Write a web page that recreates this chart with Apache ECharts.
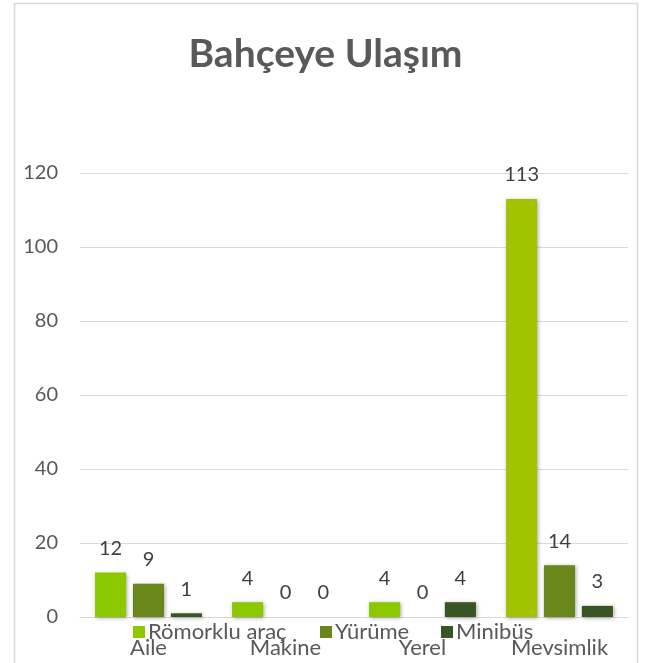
<!DOCTYPE html>
<html>
<head>
<meta charset="utf-8">
<script src="https://cdn.jsdelivr.net/npm/echarts@6/dist/echarts.min.js"></script>
<style>
  html, body { margin: 0; padding: 0; background: #fff; }
  #chart { width: 651px; height: 663px; }
</style>
</head>
<body>
<div id="chart"></div>
<script>
const categories = ['Aile', 'Makine', 'Yerel', 'Mevsimlik'];
const seriesNames = ['Römorklu araç', 'Yürüme', 'Minibüs'];
const romorklu = [12, 4, 4, 113];
const yurume = [9, 0, 0, 14];
const minibus = [1, 0, 4, 3];
const yTicks = [0, 20, 40, 60, 80, 100, 120];

const font = 'Lato, "Open Sans", sans-serif';
const colors = ['#8cc800', '#69871b', '#375623'];

const chart = echarts.init(document.getElementById('chart'));

const makeSeries = (name, data, color) => ({
  name: name,
  type: 'bar',
  data: data,
  itemStyle: {
    color: color,
    shadowColor: 'rgba(0,0,0,0.35)',
    shadowBlur: 4,
    shadowOffsetX: 1,
    shadowOffsetY: 1
  },
  barGap: '22%',
  barCategoryGap: '22%',
  label: {
    show: true,
    position: 'top',
    distance: 14,
    color: '#404040',
    fontFamily: font,
    fontSize: 20
  }
});

// the tall Mevsimlik bar is a more yellow green in the original
const romorkluData = romorklu.map((v, i) =>
  categories[i] === 'Mevsimlik' ? { value: v, itemStyle: { color: '#a2c400' } } : v);

const legendLeft = [128, 315, 436];
const legends = seriesNames.map((n, i) => ({
  data: [n],
  left: legendLeft[i],
  top: 616,
  itemWidth: 12,
  itemHeight: 12,
  icon: 'rect',
  itemStyle: { color: colors[i] },
  textStyle: { fontFamily: font, fontSize: 22, color: '#595959', padding: [0, 0, 0, -2] }
}));

chart.setOption({
  animation: false,
  title: {
    text: 'Bahçeye Ulaşım',
    left: 'center',
    top: 30,
    textStyle: { fontFamily: font, fontSize: 39, fontWeight: 'bold', color: '#595959' }
  },
  graphic: [{
    type: 'rect',
    shape: { x: 14.5, y: 3.5, width: 623, height: 700 },
    style: { fill: 'none', stroke: '#d9d9d9', lineWidth: 1.5 },
    silent: true
  }],
  legend: legends,
  grid: { left: 80, right: 23, top: 173, bottom: 46, containLabel: false },
  xAxis: {
    type: 'category',
    data: categories,
    axisLine: { lineStyle: { color: '#d9d9d9', width: 1 } },
    axisTick: { show: false },
    axisLabel: { margin: 20, fontFamily: font, fontSize: 22, color: '#595959' }
  },
  yAxis: {
    type: 'value',
    min: yTicks[0],
    max: yTicks[yTicks.length - 1],
    interval: 20,
    axisLine: { show: false },
    axisTick: { show: false },
    splitLine: { lineStyle: { color: '#d9d9d9', width: 1 } },
    axisLabel: { margin: 22, fontFamily: font, fontSize: 20, color: '#595959' }
  },
  series: [
    makeSeries(seriesNames[0], romorkluData, colors[0]),
    makeSeries(seriesNames[1], yurume, colors[1]),
    makeSeries(seriesNames[2], minibus, colors[2])
  ]
});
</script>
</body>
</html>
